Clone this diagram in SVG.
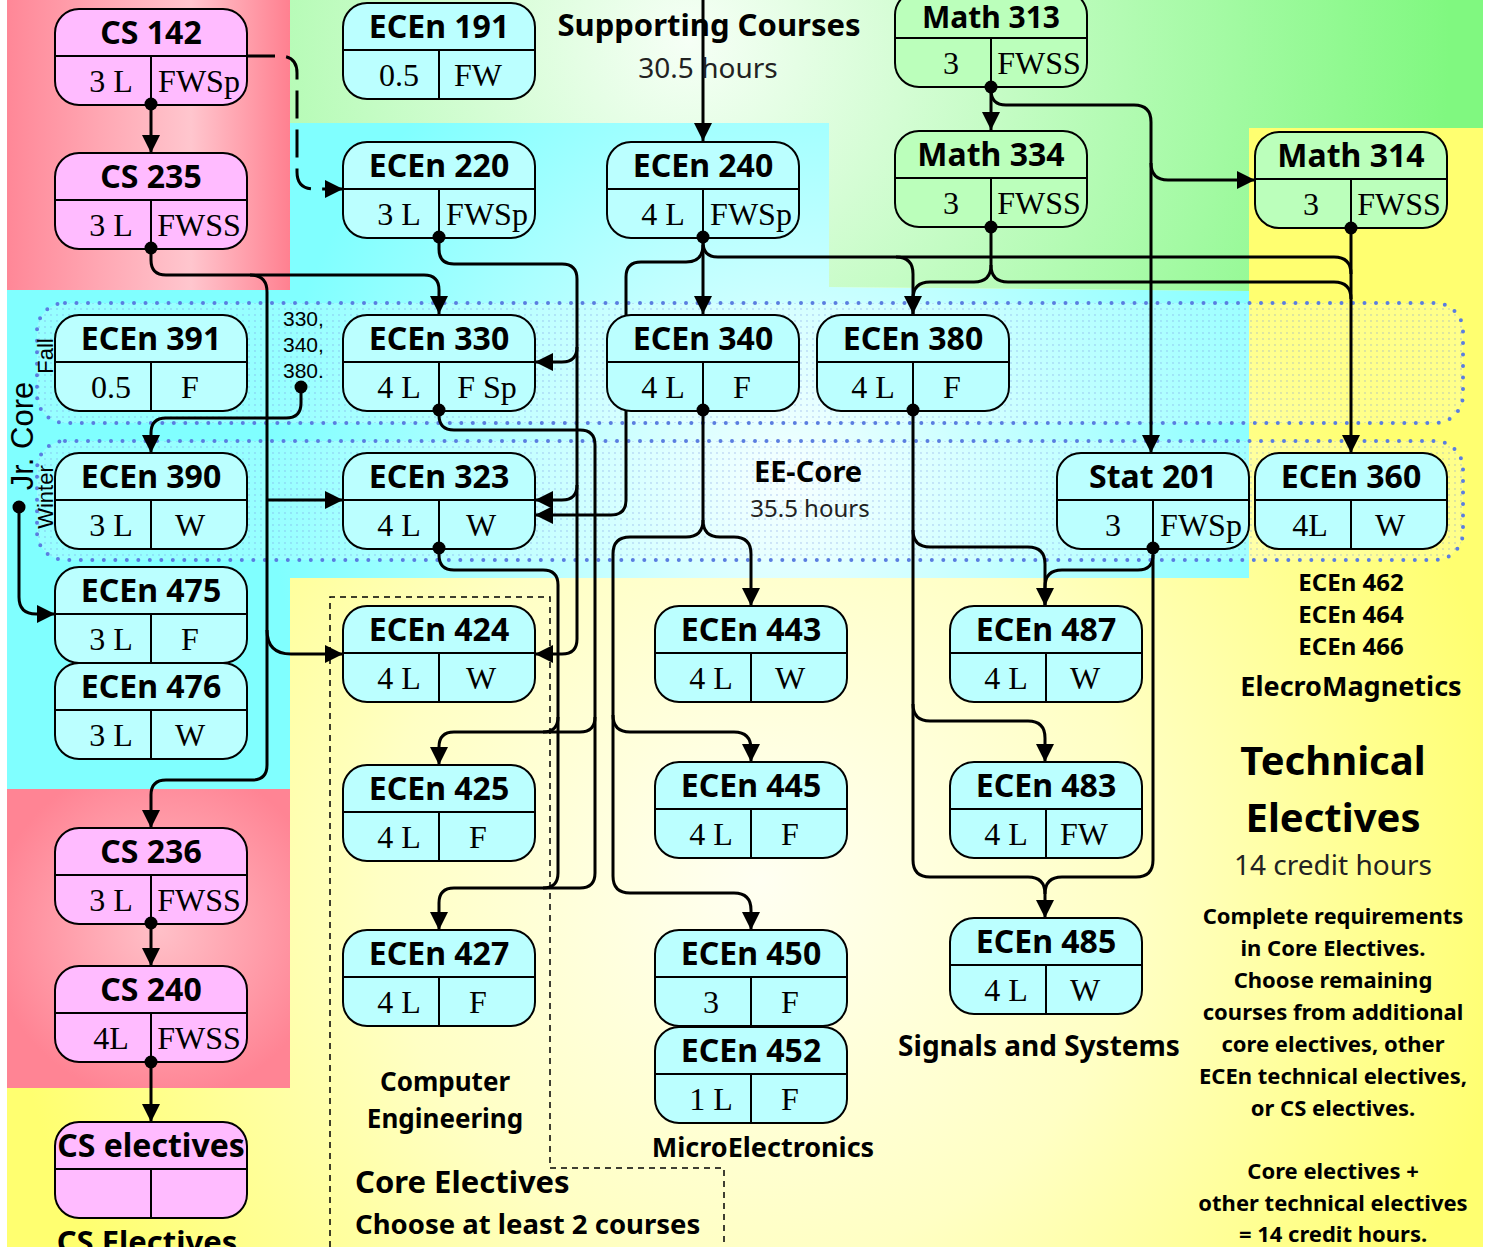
<svg xmlns="http://www.w3.org/2000/svg" width="1485" height="1247" viewBox="0 0 1485 1247">
<defs>
<style>
.n rect{stroke:#000;stroke-width:2}
.n path{stroke:#000;stroke-width:2;fill:none}
.pk rect{fill:#ffbbff}
.cy rect{fill:#bbffff}
.gr rect{fill:#bbffbb}
.h{font-family:'Noto Sans',sans-serif;font-weight:bold;font-size:32px;text-anchor:middle;fill:#000}
.r{font-family:'Liberation Serif',serif;font-size:32px;text-anchor:middle;fill:#000}
.c path{fill:none;stroke:#000;stroke-width:3}
.c .dash{stroke-dasharray:28 11}
.dot{fill:#000}
.t{font-family:'Noto Sans',sans-serif;font-weight:bold;text-anchor:middle;fill:#000}
.ts{font-family:'Noto Sans',sans-serif;font-weight:bold;text-anchor:start;fill:#000}
.lt{font-family:'Noto Sans',sans-serif;font-weight:normal;text-anchor:middle;fill:#222}
.ar{font-family:'Liberation Sans',sans-serif;fill:#000}
.arm{font-family:'Liberation Sans',sans-serif;fill:#000;text-anchor:middle}
.band{fill:url(#dots);stroke:#5a7de0;stroke-width:4;stroke-dasharray:0 11.5;stroke-linecap:round}
</style>
<marker id="ah" viewBox="0 0 10 10" refX="10" refY="5" markerWidth="18" markerHeight="18" markerUnits="userSpaceOnUse" orient="auto"><path d="M0,0L10,5L0,10z" fill="#000"/></marker>
<linearGradient id="gPink" x1="0" y1="0" x2="1" y2="0"><stop offset="0" stop-color="#ff8797"/><stop offset="0.65" stop-color="#ffc6ce"/><stop offset="1" stop-color="#ff8090"/></linearGradient>
<radialGradient id="gPink2" gradientUnits="userSpaceOnUse" cx="160" cy="930" r="170"><stop offset="0" stop-color="#ffc0c8"/><stop offset="1" stop-color="#ff8494"/></radialGradient>
<radialGradient id="gYel" gradientUnits="userSpaceOnUse" cx="760" cy="880" r="760"><stop offset="0" stop-color="#fffff2"/><stop offset="0.5" stop-color="#ffffc4"/><stop offset="1" stop-color="#ffff70"/></radialGradient>
<radialGradient id="gGrn" gradientUnits="userSpaceOnUse" cx="690" cy="40" r="760"><stop offset="0" stop-color="#f6fff6"/><stop offset="1" stop-color="#80f880"/></radialGradient>
<radialGradient id="gCyan" gradientUnits="userSpaceOnUse" cx="790" cy="480" r="520"><stop offset="0" stop-color="#f4ffff"/><stop offset="1" stop-color="#80ffff"/></radialGradient>
<pattern id="dots" width="6" height="6" patternUnits="userSpaceOnUse"><rect width="6" height="6" fill="#ffffff" fill-opacity="0.18"/><circle cx="3" cy="3" r="0.9" fill="#6f8fe0" fill-opacity="0.35"/></pattern>
</defs>

<g id="background">
<rect width="1485" height="1247" fill="#fff"/>
<rect x="7" y="0" width="1476" height="1247" fill="url(#gYel)"/>
<polygon points="290,0 1483,0 1483,128 1249,128 1249,291 829,287 829,123 290,123" fill="url(#gGrn)"/>
<polygon points="7,290 290,290 290,123 829,123 829,287 1249,291 1249,578 290,578 290,789 7,789" fill="url(#gCyan)"/>
<rect x="7" y="0" width="283" height="290" fill="url(#gPink)"/>
<rect x="7" y="789" width="283" height="299" fill="url(#gPink2)"/>
<rect class="band" x="37" y="303" width="1426" height="120" rx="28"/>
<rect class="band" x="37" y="441" width="1426" height="119" rx="28"/>
<path d="M330,1247V597H550V1168H724V1247" fill="none" stroke="#000" stroke-width="1.5" stroke-dasharray="6 5"/>
</g>

<g id="connectors" class="c">
<path d="M703,0V141" marker-end="url(#ah)"/>
<path d="M151,104V153" marker-end="url(#ah)"/>
<path class="dash" d="M247,56H280Q297,56 297,73V172Q297,189 314,189H343" marker-end="url(#ah)"/>
<path d="M151,248V260Q151,275 166,275H424Q439,275 439,290V314" marker-end="url(#ah)"/>
<path d="M250,275Q267,275 267,292V765Q267,780 252,780H166Q151,780 151,795V828" marker-end="url(#ah)"/>
<path d="M267,500H343" marker-end="url(#ah)"/>
<path d="M267,630Q267,654 291,654H343" marker-end="url(#ah)"/>
<path d="M439,237V249Q439,264 454,264H562Q577,264 577,279V347Q577,362 562,362H535" marker-end="url(#ah)"/>
<path d="M577,347V485Q577,500 562,500H535" marker-end="url(#ah)"/>
<path d="M577,485V639Q577,654 562,654H535" marker-end="url(#ah)"/>
<path d="M703,237V314" marker-end="url(#ah)"/>
<path d="M703,245Q703,262 686,262H641Q626,262 626,277V500Q626,515 611,515H535" marker-end="url(#ah)"/>
<path d="M703,242Q703,257 718,257H896Q913,257 913,274V314" marker-end="url(#ah)"/>
<path d="M896,257H1334Q1351,257 1351,274"/>
<path d="M991,227V265Q991,282 974,282H930Q913,282 913,299V314"/>
<path d="M991,265Q991,282 1008,282H1334Q1351,282 1351,299"/>
<path d="M991,87V130" marker-end="url(#ah)"/>
<path d="M991,90Q991,105 1006,105H1134Q1151,105 1151,122V163Q1151,180 1168,180H1255" marker-end="url(#ah)"/>
<path d="M1151,163V453" marker-end="url(#ah)"/>
<path d="M1351,228V453" marker-end="url(#ah)"/>
<path d="M439,410V415Q439,430 454,430H580Q595,430 595,445V717Q595,732 580,732H454Q439,732 439,747V765" marker-end="url(#ah)"/>
<path d="M595,717V873Q595,888 580,888H454Q439,888 439,903V930" marker-end="url(#ah)"/>
<path d="M439,548V555Q439,570 454,570H543Q558,570 558,585V717Q558,732 543,732"/>
<path d="M558,717V873Q558,888 543,888"/>
<path d="M703,410V520Q703,537 720,537H734Q751,537 751,554V606" marker-end="url(#ah)"/>
<path d="M703,520Q703,537 686,537H630Q613,537 613,554V715Q613,732 630,732H734Q751,732 751,749V762" marker-end="url(#ah)"/>
<path d="M613,715V876Q613,893 630,893H734Q751,893 751,910V930" marker-end="url(#ah)"/>
<path d="M913,410V530Q913,547 930,547H1028Q1045,547 1045,564V606" marker-end="url(#ah)"/>
<path d="M913,530V704Q913,721 930,721H1028Q1045,721 1045,738V762" marker-end="url(#ah)"/>
<path d="M913,704V860Q913,877 930,877H1028Q1045,877 1045,894V918" marker-end="url(#ah)"/>
<path d="M1153,548V555Q1153,570 1138,570H1062Q1045,570 1045,587V606"/>
<path d="M1153,555V860Q1153,877 1136,877H1062Q1045,877 1045,894"/>
<path d="M301,387V403Q301,418 286,418H166Q151,418 151,433V453" marker-end="url(#ah)"/>
<path d="M19,507V597Q19,614 36,614H55" marker-end="url(#ah)"/>
<path d="M151,923V966" marker-end="url(#ah)"/>
<path d="M151,1062V1122" marker-end="url(#ah)"/>
</g>

<g id="n-cs142" class="n pk" transform="translate(55,9)"><rect width="192" height="96" rx="24"/><path d="M0,47H192M96,47V96"/><text class="h" x="96" y="35">CS 142</text><text class="r" x="56" y="83">3 L</text><text class="r" x="144" y="83">FWSp</text></g>
<g id="n-cs235" class="n pk" transform="translate(55,153)"><rect width="192" height="96" rx="24"/><path d="M0,47H192M96,47V96"/><text class="h" x="96" y="35">CS 235</text><text class="r" x="56" y="83">3 L</text><text class="r" x="144" y="83">FWSS</text></g>
<g id="n-ecen191" class="n cy" transform="translate(343,3)"><rect width="192" height="96" rx="24"/><path d="M0,47H192M96,47V96"/><text class="h" x="96" y="35">ECEn 191</text><text class="r" x="56" y="83">0.5</text><text class="r" x="135" y="83">FW</text></g>
<g id="n-ecen220" class="n cy" transform="translate(343,142)"><rect width="192" height="96" rx="24"/><path d="M0,47H192M96,47V96"/><text class="h" x="96" y="35">ECEn 220</text><text class="r" x="56" y="83">3 L</text><text class="r" x="144" y="83">FWSp</text></g>
<g id="n-ecen240" class="n cy" transform="translate(607,142)"><rect width="192" height="96" rx="24"/><path d="M0,47H192M96,47V96"/><text class="h" x="96" y="35">ECEn 240</text><text class="r" x="56" y="83">4 L</text><text class="r" x="144" y="83">FWSp</text></g>
<g id="n-math313" class="n gr" transform="translate(895,-9)"><rect width="192" height="96" rx="24"/><path d="M0,47H192M96,47V96"/><text class="h" x="96" y="37" style="font-size:30px">Math 313</text><text class="r" x="56" y="83">3</text><text class="r" x="144" y="83">FWSS</text></g>
<g id="n-math334" class="n gr" transform="translate(895,131)"><rect width="192" height="96" rx="24"/><path d="M0,47H192M96,47V96"/><text class="h" x="96" y="35">Math 334</text><text class="r" x="56" y="83">3</text><text class="r" x="144" y="83">FWSS</text></g>
<g id="n-math314" class="n gr" transform="translate(1255,132)"><rect width="192" height="96" rx="24"/><path d="M0,47H192M96,47V96"/><text class="h" x="96" y="35">Math 314</text><text class="r" x="56" y="83">3</text><text class="r" x="144" y="83">FWSS</text></g>
<g id="n-ecen391" class="n cy" transform="translate(55,315)"><rect width="192" height="96" rx="24"/><path d="M0,47H192M96,47V96"/><text class="h" x="96" y="35">ECEn 391</text><text class="r" x="56" y="83">0.5</text><text class="r" x="135" y="83">F</text></g>
<g id="n-ecen330" class="n cy" transform="translate(343,315)"><rect width="192" height="96" rx="24"/><path d="M0,47H192M96,47V96"/><text class="h" x="96" y="35">ECEn 330</text><text class="r" x="56" y="83">4 L</text><text class="r" x="144" y="83">F Sp</text></g>
<g id="n-ecen340" class="n cy" transform="translate(607,315)"><rect width="192" height="96" rx="24"/><path d="M0,47H192M96,47V96"/><text class="h" x="96" y="35">ECEn 340</text><text class="r" x="56" y="83">4 L</text><text class="r" x="135" y="83">F</text></g>
<g id="n-ecen380" class="n cy" transform="translate(817,315)"><rect width="192" height="96" rx="24"/><path d="M0,47H192M96,47V96"/><text class="h" x="96" y="35">ECEn 380</text><text class="r" x="56" y="83">4 L</text><text class="r" x="135" y="83">F</text></g>
<g id="n-ecen390" class="n cy" transform="translate(55,453)"><rect width="192" height="96" rx="24"/><path d="M0,47H192M96,47V96"/><text class="h" x="96" y="35">ECEn 390</text><text class="r" x="56" y="83">3 L</text><text class="r" x="135" y="83">W</text></g>
<g id="n-ecen323" class="n cy" transform="translate(343,453)"><rect width="192" height="96" rx="24"/><path d="M0,47H192M96,47V96"/><text class="h" x="96" y="35">ECEn 323</text><text class="r" x="56" y="83">4 L</text><text class="r" x="138" y="83">W</text></g>
<g id="n-stat201" class="n cy" transform="translate(1057,453)"><rect width="192" height="96" rx="24"/><path d="M0,47H192M96,47V96"/><text class="h" x="96" y="35">Stat 201</text><text class="r" x="56" y="83">3</text><text class="r" x="144" y="83">FWSp</text></g>
<g id="n-ecen360" class="n cy" transform="translate(1255,453)"><rect width="192" height="96" rx="24"/><path d="M0,47H192M96,47V96"/><text class="h" x="96" y="35">ECEn 360</text><text class="r" x="55" y="83">4L</text><text class="r" x="135" y="83">W</text></g>
<g id="n-ecen475" class="n cy" transform="translate(55,567)"><rect width="192" height="96" rx="24"/><path d="M0,47H192M96,47V96"/><text class="h" x="96" y="35">ECEn 475</text><text class="r" x="56" y="83">3 L</text><text class="r" x="135" y="83">F</text></g>
<g id="n-ecen476" class="n cy" transform="translate(55,663)"><rect width="192" height="96" rx="24"/><path d="M0,47H192M96,47V96"/><text class="h" x="96" y="35">ECEn 476</text><text class="r" x="56" y="83">3 L</text><text class="r" x="135" y="83">W</text></g>
<g id="n-ecen424" class="n cy" transform="translate(343,606)"><rect width="192" height="96" rx="24"/><path d="M0,47H192M96,47V96"/><text class="h" x="96" y="35">ECEn 424</text><text class="r" x="56" y="83">4 L</text><text class="r" x="138" y="83">W</text></g>
<g id="n-ecen425" class="n cy" transform="translate(343,765)"><rect width="192" height="96" rx="24"/><path d="M0,47H192M96,47V96"/><text class="h" x="96" y="35">ECEn 425</text><text class="r" x="56" y="83">4 L</text><text class="r" x="135" y="83">F</text></g>
<g id="n-ecen427" class="n cy" transform="translate(343,930)"><rect width="192" height="96" rx="24"/><path d="M0,47H192M96,47V96"/><text class="h" x="96" y="35">ECEn 427</text><text class="r" x="56" y="83">4 L</text><text class="r" x="135" y="83">F</text></g>
<g id="n-ecen443" class="n cy" transform="translate(655,606)"><rect width="192" height="96" rx="24"/><path d="M0,47H192M96,47V96"/><text class="h" x="96" y="35">ECEn 443</text><text class="r" x="56" y="83">4 L</text><text class="r" x="135" y="83">W</text></g>
<g id="n-ecen445" class="n cy" transform="translate(655,762)"><rect width="192" height="96" rx="24"/><path d="M0,47H192M96,47V96"/><text class="h" x="96" y="35">ECEn 445</text><text class="r" x="56" y="83">4 L</text><text class="r" x="135" y="83">F</text></g>
<g id="n-ecen450" class="n cy" transform="translate(655,930)"><rect width="192" height="96" rx="24"/><path d="M0,47H192M96,47V96"/><text class="h" x="96" y="35">ECEn 450</text><text class="r" x="56" y="83">3</text><text class="r" x="135" y="83">F</text></g>
<g id="n-ecen452" class="n cy" transform="translate(655,1027)"><rect width="192" height="96" rx="24"/><path d="M0,47H192M96,47V96"/><text class="h" x="96" y="35">ECEn 452</text><text class="r" x="56" y="83">1 L</text><text class="r" x="135" y="83">F</text></g>
<g id="n-ecen487" class="n cy" transform="translate(950,606)"><rect width="192" height="96" rx="24"/><path d="M0,47H192M96,47V96"/><text class="h" x="96" y="35">ECEn 487</text><text class="r" x="56" y="83">4 L</text><text class="r" x="135" y="83">W</text></g>
<g id="n-ecen483" class="n cy" transform="translate(950,762)"><rect width="192" height="96" rx="24"/><path d="M0,47H192M96,47V96"/><text class="h" x="96" y="35">ECEn 483</text><text class="r" x="56" y="83">4 L</text><text class="r" x="134" y="83">FW</text></g>
<g id="n-ecen485" class="n cy" transform="translate(950,918)"><rect width="192" height="96" rx="24"/><path d="M0,47H192M96,47V96"/><text class="h" x="96" y="35">ECEn 485</text><text class="r" x="56" y="83">4 L</text><text class="r" x="135" y="83">W</text></g>
<g id="n-cs236" class="n pk" transform="translate(55,828)"><rect width="192" height="96" rx="24"/><path d="M0,47H192M96,47V96"/><text class="h" x="96" y="35">CS 236</text><text class="r" x="56" y="83">3 L</text><text class="r" x="144" y="83">FWSS</text></g>
<g id="n-cs240" class="n pk" transform="translate(55,966)"><rect width="192" height="96" rx="24"/><path d="M0,47H192M96,47V96"/><text class="h" x="96" y="35">CS 240</text><text class="r" x="56" y="83">4L</text><text class="r" x="144" y="83">FWSS</text></g>
<g id="n-cselectives" class="n pk" transform="translate(55,1122)"><rect width="192" height="96" rx="24"/><path d="M0,47H192M96,47V96"/><text class="h" x="96" y="35">CS electives</text></g>

<g id="junctions" class="dot">
<circle cx="151" cy="104" r="6.5"/><circle cx="151" cy="248" r="6.5"/><circle cx="439" cy="237" r="6.5"/><circle cx="703" cy="237" r="6.5"/>
<circle cx="991" cy="87" r="6.5"/><circle cx="991" cy="227" r="6.5"/><circle cx="1351" cy="228" r="6.5"/><circle cx="439" cy="410" r="6.5"/>
<circle cx="439" cy="548" r="6.5"/><circle cx="703" cy="410" r="6.5"/><circle cx="913" cy="410" r="6.5"/><circle cx="1153" cy="548" r="6.5"/>
<circle cx="301" cy="387" r="6.5"/><circle cx="19" cy="507" r="6.5"/><circle cx="151" cy="923" r="6.5"/><circle cx="151" cy="1062" r="6.5"/>
</g>

<g id="labels">
<text class="t" x="709" y="36" font-size="31">Supporting Courses</text>
<text class="lt" x="708" y="78" font-size="28">30.5 hours</text>
<text class="ar" x="283" y="326" font-size="21">330,</text>
<text class="ar" x="283" y="352" font-size="21">340,</text>
<text class="ar" x="283" y="378" font-size="21">380.</text>
<text class="arm" transform="translate(33,436) rotate(-90)" font-size="31">Jr. Core</text>
<text class="arm" transform="translate(53,356) rotate(-90)" font-size="22">Fall</text>
<text class="arm" transform="translate(53,497) rotate(-90)" font-size="22">Winter</text>
<text class="t" x="808" y="482" font-size="29">EE-Core</text>
<text class="lt" x="810" y="517" font-size="24">35.5 hours</text>
<text class="t" x="1351" y="591" font-size="24">ECEn 462</text>
<text class="t" x="1351" y="623" font-size="24">ECEn 464</text>
<text class="t" x="1351" y="655" font-size="24">ECEn 466</text>
<text class="t" x="1351" y="696" font-size="27">ElecroMagnetics</text>
<text class="t" x="1333" y="775" font-size="40">Technical</text>
<text class="t" x="1333" y="832" font-size="40">Electives</text>
<text class="lt" x="1333" y="875" font-size="28">14 credit hours</text>
<text class="t" x="1333" y="924" font-size="22">Complete requirements</text>
<text class="t" x="1333" y="956" font-size="22">in Core Electives.</text>
<text class="t" x="1333" y="988" font-size="22">Choose remaining</text>
<text class="t" x="1333" y="1020" font-size="22">courses from additional</text>
<text class="t" x="1333" y="1052" font-size="22">core electives, other</text>
<text class="t" x="1333" y="1084" font-size="22">ECEn technical electives,</text>
<text class="t" x="1333" y="1116" font-size="22">or CS electives.</text>
<text class="t" x="1333" y="1179" font-size="22">Core electives +</text>
<text class="t" x="1333" y="1211" font-size="22">other technical electives</text>
<text class="t" x="1333" y="1242" font-size="22">= 14 credit hours.</text>
<text class="t" x="445" y="1091" font-size="26">Computer</text>
<text class="t" x="445" y="1128" font-size="26">Engineering</text>
<text class="ts" x="355" y="1193" font-size="31">Core Electives</text>
<text class="ts" x="355" y="1234" font-size="27.5">Choose at least 2 courses</text>
<text class="t" x="763" y="1157" font-size="27">MicroElectronics</text>
<text class="t" x="1039" y="1056" font-size="28">Signals and Systems</text>
<text class="t" x="147" y="1253" font-size="31">CS Electives</text>
</g>
</svg>
